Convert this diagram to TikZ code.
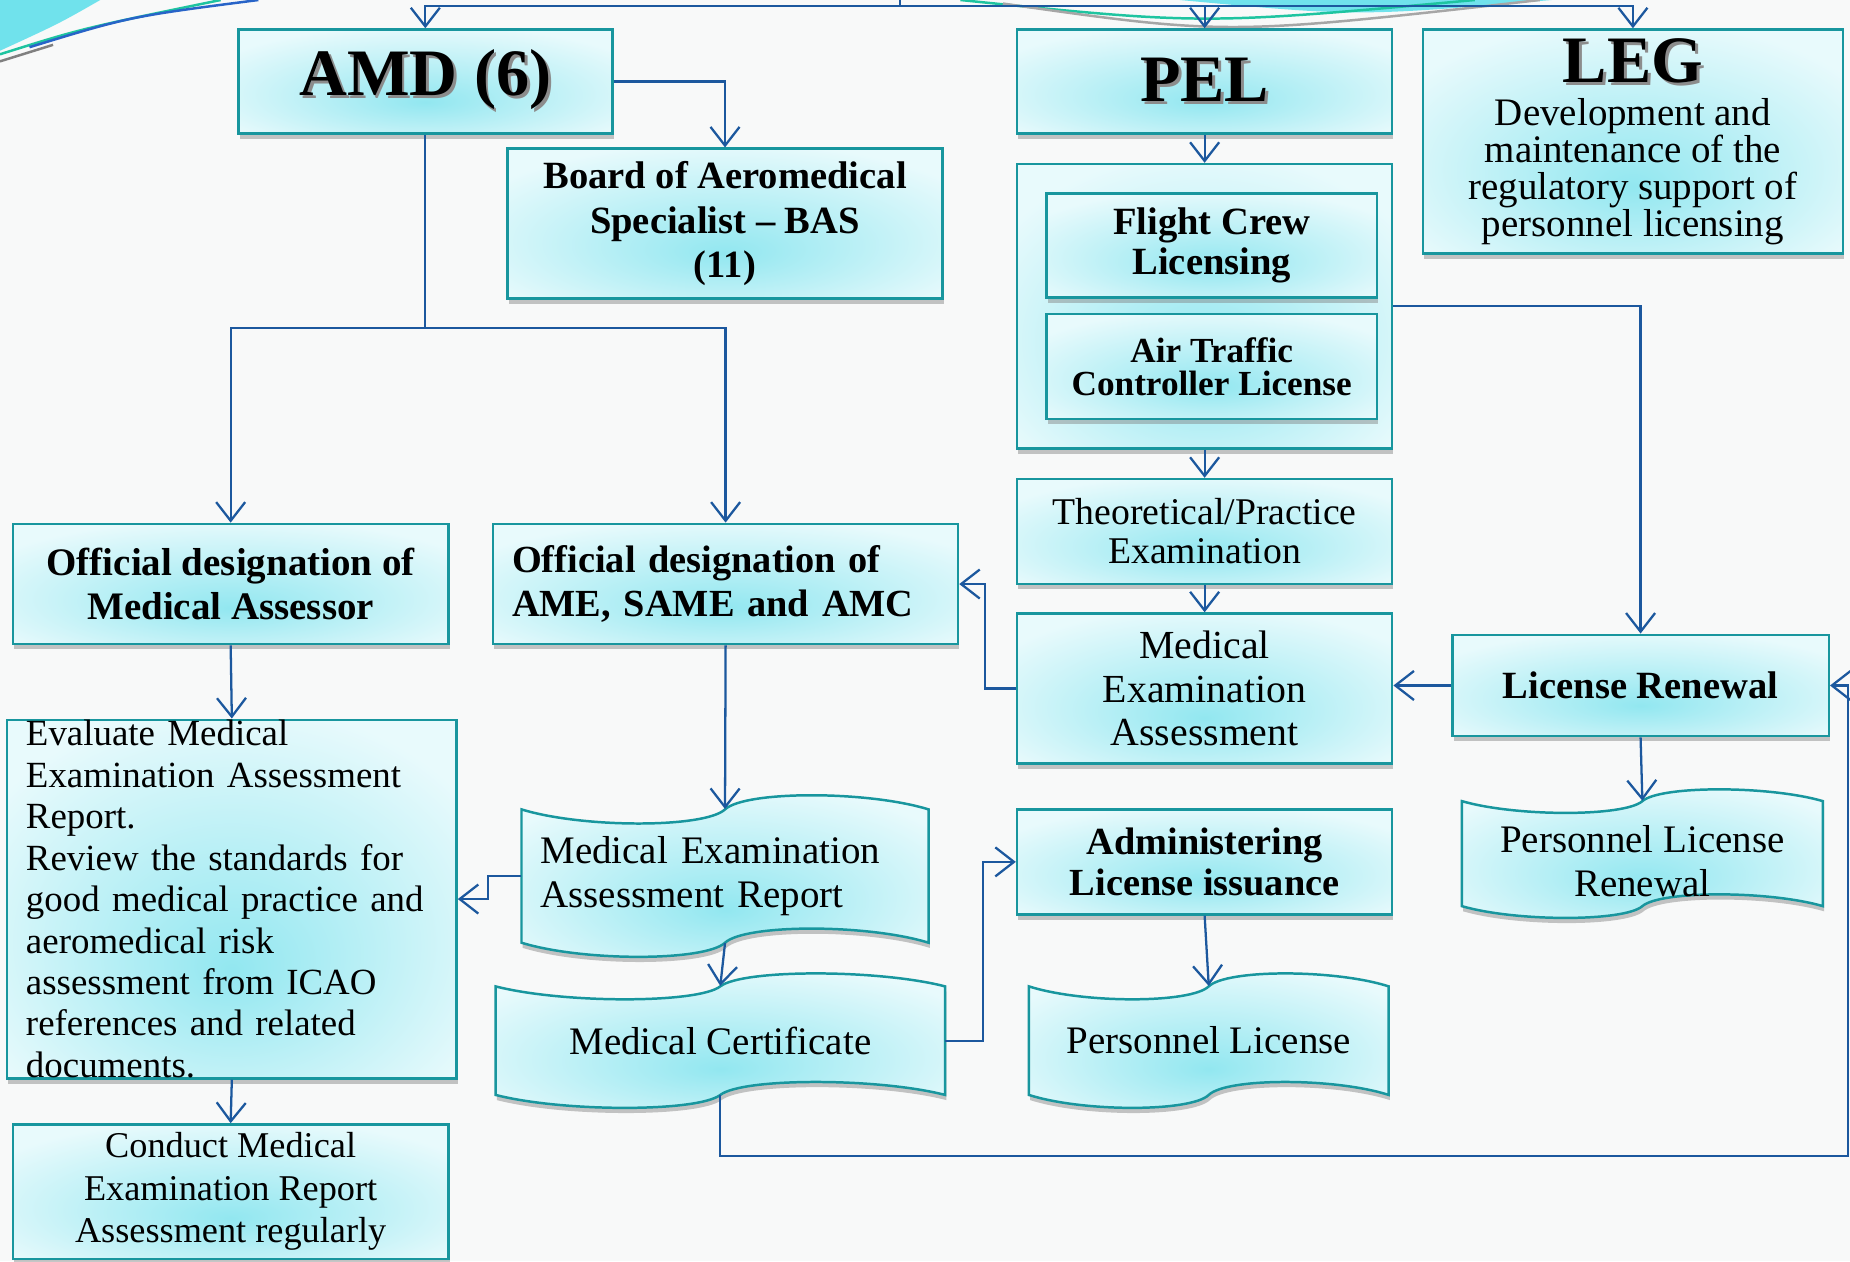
\documentclass[tikz,border=0pt]{standalone}
\usepackage{fontspec}
\setmainfont{Liberation Serif}
\usetikzlibrary{arrows.meta,shadows}

\definecolor{bgpaper}{RGB}{248,249,249}
\definecolor{boxedge}{RGB}{24,150,158}
\definecolor{glowin}{RGB}{146,231,240}
\definecolor{glowout}{RGB}{232,250,252}
\definecolor{linkblue}{RGB}{28,88,158}
\definecolor{decocyan}{RGB}{112,226,236}
\definecolor{decogreen}{RGB}{30,196,160}
\definecolor{decoblue}{RGB}{40,100,200}

% light box filling, darker at the lower middle
\pgfdeclareradialshading{glow}{\pgfpoint{0bp}{-10bp}}{color(0bp)=(glowin); color(32bp)=(glowout); color(60bp)=(glowout)}

% bold titles with a grey shadow
\newcommand{\shadowed}[1]{\leavevmode\rlap{\hspace{1.4pt}\raisebox{-1.4pt}{\textcolor{black!45}{#1}}}#1}

% wave shaped document: left, top, right, bottom, amplitude
\newcommand{\wavedoc}[5]{%
	\path[docshape] (#1,#2)
		.. controls ({#1+0.15*(#3-#1)},{#2+1.33*#5}) and ({#1+0.45*(#3-#1)},{#2+1.33*#5}) .. ({0.5*#1+0.5*#3},#2)
		.. controls ({#1+0.55*(#3-#1)},{#2-1.33*#5}) and ({#1+0.85*(#3-#1)},{#2-1.33*#5}) .. (#3,#2)
		-- (#3,#4)
		.. controls ({#1+0.85*(#3-#1)},{#4-1.33*#5}) and ({#1+0.55*(#3-#1)},{#4-1.33*#5}) .. ({0.5*#1+0.5*#3},#4)
		.. controls ({#1+0.45*(#3-#1)},{#4+1.33*#5}) and ({#1+0.15*(#3-#1)},{#4+1.33*#5}) .. (#1,#4)
		-- cycle;}

\tikzset{
	box/.style={draw=boxedge, line width=1.2pt, shade, shading=glow,
		drop shadow={opacity=.45, shadow xshift=.6pt, shadow yshift=-2.5pt},
		inner sep=0pt, align=center},
	docshape/.style={draw=boxedge, line width=1.2pt, shade, shading=glow,
		drop shadow={opacity=.45, shadow xshift=.6pt, shadow yshift=-2.5pt}},
	doctext/.style={inner sep=0pt, align=center},
	titlefont/.style={font=\fontsize{32}{34}\selectfont\bfseries},
	boldfont/.style={font=\fontsize{18.6}{21.3}\selectfont\bfseries},
	plainfont/.style={font=\fontsize{18.8}{21}\selectfont},
	wire/.style={draw=linkblue, line width=1.1pt},
	link/.style={wire, -{Straight Barb[length=9pt,width=14pt]}},
}

\begin{document}
\begin{tikzpicture}[x=0.02cm, y=-0.02cm]
	\useasboundingbox (0,0) rectangle (1568,1069);
	\fill[bgpaper] (0,0) rectangle (1568,1069);

	%slide decoration
	\fill[decocyan] (0,0) -- (85,0) .. controls (50,20) .. (0,43) -- cycle;
	\draw[decogreen, line width=1.2pt] (0,46) .. controls (70,24) .. (187,0);
	\draw[decoblue, line width=1.2pt] (25,40) .. controls (110,14) .. (219,0);
	\draw[gray, line width=1.2pt] (0,52) -- (45,38);
	\fill[decocyan] (1000,0) .. controls (1150,14) .. (1315,0) -- cycle;
	\draw[decogreen, line width=1.2pt] (814,0) .. controls (1020,21) .. (1250,0);
	\draw[gray!70, line width=1.2pt] (850,3) .. controls (1040,30) .. (1305,0);

	%AMD column
	\node[box, titlefont, minimum width=6.34cm, minimum height=1.76cm] (amd) at (360.5,69) {\shadowed{AMD (6)}};
	\node[box, boldfont, minimum width=7.38cm, minimum height=2.54cm] (bas) at (614.5,189.5) {Board of Aeromedical\\ Specialist – BAS\\ (11)};
	\node[box, font=\fontsize{18.8}{21.6}\selectfont\bfseries, minimum width=7.38cm, minimum height=2.04cm] (assessor) at (195.5,495) {Official designation of\\ Medical Assessor};
	\node[box, font=\fontsize{18.5}{21.6}\selectfont\bfseries, minimum width=7.88cm, minimum height=2.04cm, text width=7.24cm, inner xsep=.32cm, align=left] (ame) at (615,495) {Official designation of\\ AME, SAME and AMC};
	\node[box, font=\fontsize{17.8}{20}\selectfont, minimum width=7.62cm, minimum height=6.08cm, text width=6.98cm, inner xsep=.32cm, inner ysep=-2pt, align=left] (evaluate) at (196.5,762) {Evaluate Medical\\ Examination Assessment\\ Report.\\ Review the standards for\\ good medical practice and\\ aeromedical risk\\ assessment from ICAO\\ references and related\\ documents.};
	\node[box, font=\fontsize{17.5}{20.5}\selectfont, minimum width=7.38cm, minimum height=2.28cm] (conduct) at (195.5,1010) {Conduct Medical\\ Examination Report\\ Assessment regularly};

	\wavedoc{442}{686}{787}{799}{12}
	\node[doctext, plainfont, minimum width=6.9cm, minimum height=2.26cm, text width=6.26cm, inner xsep=.32cm, align=left] (report) at (614.5,742.5) {Medical Examination\\ Assessment Report};
	\wavedoc{420}{836}{801}{928}{11}
	\node[doctext, plainfont, minimum width=7.62cm, minimum height=1.84cm] (cert) at (610.5,882) {Medical Certificate};

	%PEL column
	\node[box, titlefont, minimum width=6.36cm, minimum height=1.76cm] (pel) at (1021,69) {\shadowed{PEL}};
	\node[box, minimum width=6.36cm, minimum height=4.82cm] (pelgroup) at (1021,259.5) {};
	\node[box, font=\fontsize{18.6}{19.4}\selectfont\bfseries, minimum width=5.6cm, minimum height=1.76cm] (fcl) at (1027,208) {Flight Crew\\ Licensing};
	\node[box, font=\fontsize{17}{16}\selectfont\bfseries, minimum width=5.6cm, minimum height=1.78cm] (atc) at (1027,310.5) {Air Traffic\\ Controller License};
	\node[box, font=\fontsize{18.2}{18.8}\selectfont, minimum width=6.36cm, minimum height=1.78cm] (theory) at (1021,450.5) {Theoretical/Practice\\ Examination};
	\node[box, font=\fontsize{19.2}{20.8}\selectfont, minimum width=6.36cm, minimum height=2.54cm] (mea) at (1021,583.5) {Medical\\ Examination\\ Assessment};
	\node[box, font=\fontsize{18.5}{19.4}\selectfont\bfseries, minimum width=6.36cm, minimum height=1.78cm] (admin) at (1021,730.5) {Administering\\ License issuance};
	\wavedoc{872}{836}{1177}{928}{11}
	\node[doctext, plainfont, minimum width=6.1cm, minimum height=1.84cm] (plic) at (1024.5,882) {Personnel License};

	%LEG column
	\node[box, font=\fontsize{18.8}{17.8}\selectfont, minimum width=7.12cm, minimum height=3.8cm] (leg) at (1384,120) {{\fontsize{32}{34}\selectfont\bfseries\shadowed{LEG}}\\[3pt] Development and\\ maintenance of the\\ regulatory support of\\ personnel licensing};
	\node[box, boldfont, minimum width=6.38cm, minimum height=1.72cm] (renewal) at (1390.5,581) {License Renewal};
	\wavedoc{1239}{679}{1545}{768}{10}
	\node[doctext, plainfont, minimum width=6.12cm, minimum height=2.04cm] (plrenew) at (1392,730) {Personnel License\\ Renewal};

	%connectors
	\coordinate (top) at (763,0);
	\coordinate (topbar) at (763,5);
	\draw[wire] (top) -- (topbar);
	\foreach \n in {amd, pel, leg}
		\draw[link] (topbar) -| (\n.north);

	\draw[link] (amd.east) -| (bas.north);
	\coordinate (amdsplit) at (360.5,278);
	\draw[wire] (amd.south) -- (amdsplit);
	\draw[link] (amdsplit) -| (assessor.north);
	\draw[link] (amdsplit) -| (ame.north);

	\foreach \a/\b in {assessor/evaluate, evaluate/conduct, ame/report, report/cert,
		pel/pelgroup, pelgroup/theory, theory/mea, admin/plic, renewal/plrenew}
		\draw[link] (\a.south) -- (\b.north);

	\draw[link] (report.west) -- ++(-28,0) |- (evaluate.east);
	\draw[link] (mea.west) -- ++(-26,0) |- (ame.east);
	\draw[link] (cert.east) -- ++(32,0) |- (admin.west);
	\draw[link] (pelgroup.east) -| (renewal.north);
	\draw[link] (renewal.west) -- (mea.east |- renewal.west);
	\coordinate (loop) at (1566,980);
	\draw[link] (cert.south) |- (loop) |- (renewal.east);
\end{tikzpicture}
\end{document}
